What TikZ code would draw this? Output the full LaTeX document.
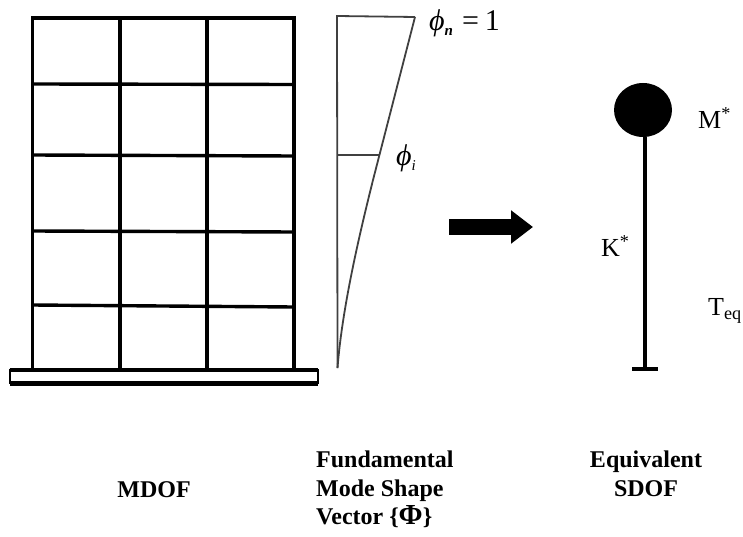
\documentclass[tikz,border=0pt]{standalone}
\usepackage{fontspec}
\setmainfont{Liberation Serif}
\usetikzlibrary{arrows.meta, shapes.geometric}
\begin{document}
\begin{tikzpicture}[x=1pt, y=-1pt]
  \tikzstyle{column} = [line width=3.8pt, black]
  \tikzstyle{beam} = [line width=3.4pt, black]
  \tikzstyle{shape line} = [line width=1.8pt, black!75]
  \tikzstyle{caption} = [font=\bfseries\fontsize{24}{28.5}\selectfont, inner sep=0pt]
  \tikzstyle{label} = [font=\fontsize{26}{28}\selectfont, inner sep=0pt]
  \tikzstyle{phi} = [font=\itshape\fontsize{30}{30}\selectfont, inner sep=0pt]
  \tikzstyle{arrow} = [line width=16pt, -{Triangle[length=22pt, width=32pt]}]

  \useasboundingbox (0,0) rectangle (743,537);

  % Frame
  \foreach \x in {32.5,120,207,294}
    \draw[column] (\x,16.5) -- (\x,368);
  \foreach \y/\z in {18/18,84/84.5,155/156,231/232,305/307}
    \draw[beam] (32,\y) -- (294,\z);

  % Base
  \draw[line width=4pt] (9.5,369.5) -- (318,369.5);
  \draw[line width=5pt] (9.5,383.5) -- (318,383.5);
  \draw[line width=2pt] (10,369) -- (10,384);
  \draw[line width=2pt] (317.5,369) -- (317.5,384);

  % Mode shape
  \coordinate (top) at (337,16);
  \coordinate (tip) at (415,17);
  \coordinate (bottom) at (337.5,368);
  \coordinate (mid) at (337,155);
  \coordinate (midtip) at (380,155);
  \draw[shape line] (bottom) -- (top) -- (tip);
  \draw[shape line] (mid) -- (midtip);
  \draw[shape line] (tip) -- (373,180) .. controls (358,240) and (342,310) .. (bottom);
  \node (phin) [phi, anchor=base west] at (429,31) {ϕ\raisebox{-5pt}{\bfseries\fontsize{15}{15}\selectfont n}\hspace{9pt}\upshape\fontsize{30}{30}\selectfont =\hspace{6pt}1};
  \node (phii) [phi, anchor=base west] at (396,166) {ϕ\raisebox{-5pt}{\fontsize{15}{15}\selectfont i}};

  % Arrow
  \coordinate (from) at (449,227);
  \coordinate (to) at (533,227);
  \draw[arrow] (from) -- (to);

  % SDOF
  \node (mass) [ellipse, fill=black, minimum width=58pt, minimum height=54pt, inner sep=0pt] at (643,110) {};
  \coordinate (foot) at (644.5,369);
  \coordinate (footl) at (632,369);
  \coordinate (footr) at (658,369);
  \draw[line width=4pt] (mass.south -| foot) -- (foot);
  \draw[line width=4pt] (footl) -- (footr);
  \node (mstar) [label, anchor=west] at (698,118) {M\textsuperscript{*}};
  \node (kstar) [label, anchor=west] at (601,246) {K\textsuperscript{*}};
  \node (teq) [label, anchor=west] at (708,311) {T$_{\mathrm{eq}}$};

  % Captions
  \node (mdof) [caption] at (154,490) {MDOF};
  \node (vector) [caption, align=left, anchor=north west] at (316,451) {Fundamental\\Mode Shape\\Vector \{{\fontsize{29}{28.5}\selectfont Φ}\}};
  \node (sdof) [caption, align=center] at (646,474) {Equivalent\\SDOF};
\end{tikzpicture}
\end{document}
